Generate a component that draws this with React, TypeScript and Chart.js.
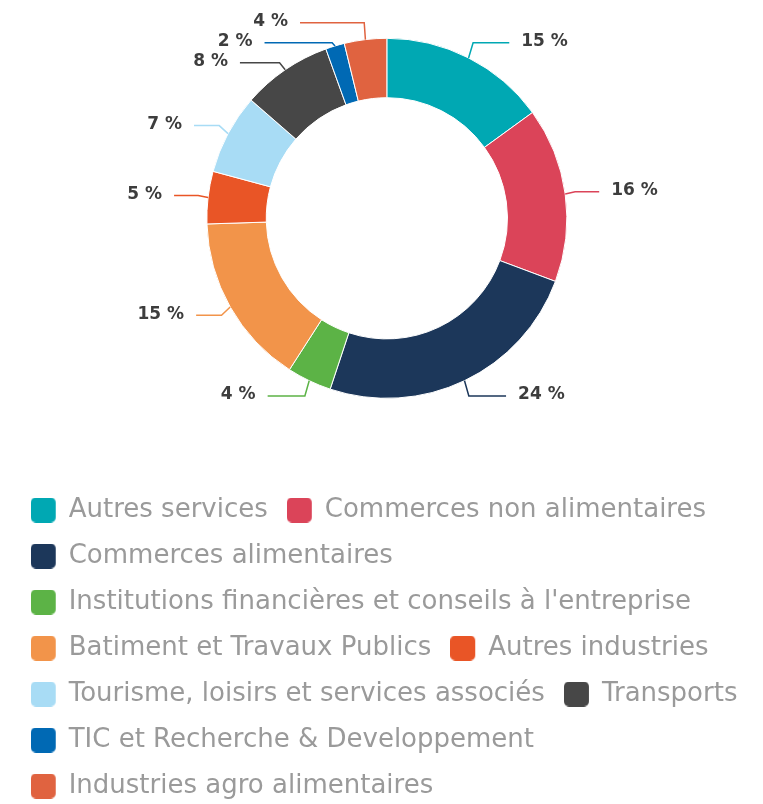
import React, { useEffect, useRef } from 'react';
import { Chart, registerables } from 'chart.js';

Chart.register(...registerables);

const categories: string[] = [
  'Autres services',
  'Commerces non alimentaires',
  'Commerces alimentaires',
  "Institutions financières et conseils à l'entreprise",
  'Batiment et Travaux Publics',
  'Autres industries',
  'Tourisme, loisirs et services associés',
  'Transports',
  'TIC et Recherche & Developpement',
  'Industries agro alimentaires',
];

const shares: number[] = [15.0, 15.7, 24.4, 4.0, 15.4, 4.7, 7.2, 8.1, 1.7, 3.8];

const colors: string[] = [
  '#00a8b3',
  '#db4459',
  '#1c375a',
  '#5cb346',
  '#f2944a',
  '#e95526',
  '#a8dcf5',
  '#474747',
  '#0069b4',
  '#e06340',
];

function makeSwatch(color: string): HTMLCanvasElement {
  const c = document.createElement('canvas');
  c.width = 26;
  c.height = 25;
  const g = c.getContext('2d')!;
  g.fillStyle = color;
  g.beginPath();
  (g as any).roundRect(0, 0, 25, 25, 5);
  g.fill();
  return c;
}

const labelPlugin = {
  id: 'pieLabels',
  afterDatasetsDraw(chart: any) {
    const meta = chart.getDatasetMeta(0);
    const ctx = chart.ctx as CanvasRenderingContext2D;
    const data = chart.data.datasets[0].data as number[];
    const total = data.reduce((a, b) => a + b, 0);
    const items = meta.data.map((arc: any, i: number) => {
      const p = arc.getProps(['x', 'y', 'startAngle', 'endAngle', 'outerRadius'], true);
      const mid = (p.startAngle + p.endAngle) / 2;
      const r = p.outerRadius;
      const right = Math.cos(mid) >= 0;
      return { i, cx: p.x, cy: p.y, r, mid, right, y: p.y + (r + 17) * Math.sin(mid) };
    });
    const gap = 20;
    [true, false].forEach((side) => {
      const list = items.filter((it: any) => it.right === side).sort((a: any, b: any) => a.y - b.y);
      for (let k = 1; k < list.length; k++) {
        if (list[k].y < list[k - 1].y + gap) list[k].y = list[k - 1].y + gap;
      }
    });
    ctx.save();
    ctx.font = 'bold 17px "DejaVu Sans"';
    ctx.textBaseline = 'middle';
    items.forEach((it: any) => {
      const { cx, cy, r, mid, right } = it;
      const sign = right ? 1 : -1;
      const Rx = r + 34;
      const dy = it.y - cy;
      const endX = cx + sign * Math.sqrt(Math.max(0, Rx * Rx - dy * dy));
      const elbowX = cx + (r + 10) * Math.cos(mid);
      const edgeX = cx + r * Math.cos(mid);
      const edgeY = cy + r * Math.sin(mid);
      ctx.strokeStyle = colors[it.i];
      ctx.lineWidth = 1.5;
      ctx.beginPath();
      ctx.moveTo(endX, it.y);
      ctx.lineTo(elbowX, it.y);
      ctx.lineTo(edgeX, edgeY);
      ctx.stroke();
      ctx.fillStyle = '#3d3d3d';
      ctx.textAlign = right ? 'left' : 'right';
      ctx.fillText(Math.round((data[it.i] / total) * 100) + ' %', endX + sign * 12, it.y - 1);
    });
    ctx.restore();
  },
};

export default function App() {
  const ref = useRef<HTMLCanvasElement>(null);

  useEffect(() => {
    if (!ref.current) return;
    const swatches = colors.map(makeSwatch);
    const chart = new Chart(ref.current, {
      type: 'doughnut',
      data: {
        labels: categories,
        datasets: [
          {
            data: shares,
            backgroundColor: colors,
            borderColor: '#ffffff',
            borderWidth: 1,
          },
        ],
      },
      options: {
        responsive: false,
        animation: false,
        radius: 180,
        cutout: '67%',
        layout: { padding: { left: 11.7, right: 0, top: 0, bottom: 0 } },
        plugins: {
          tooltip: { enabled: false },
          legend: {
            position: 'bottom',
            align: 'start',
            title: { display: true, text: ' ', padding: 13, font: { size: 12 } },
            labels: {
              usePointStyle: true,
              pointStyleWidth: 24,
              padding: 20,
              color: '#9a9a9a',
              font: { family: 'DejaVu Sans', size: 26 },
              generateLabels: () =>
                categories.map((c, i) => ({
                  text: c,
                  fillStyle: colors[i],
                  strokeStyle: colors[i],
                  fontColor: '#9a9a9a',
                  lineWidth: 0,
                  pointStyle: swatches[i],
                  hidden: false,
                  index: i,
                  datasetIndex: 0,
                })),
            },
          },
        },
      } as any,
      plugins: [labelPlugin],
    });
    return () => chart.destroy();
  }, []);

  return (
    <div style={{ position: 'absolute', left: 0, top: 0, width: 763, height: 804, overflow: 'hidden', background: '#fff' }}>
      <canvas ref={ref} width={762} height={809} style={{ display: 'block', width: 762, height: 809 }} />
    </div>
  );
}
